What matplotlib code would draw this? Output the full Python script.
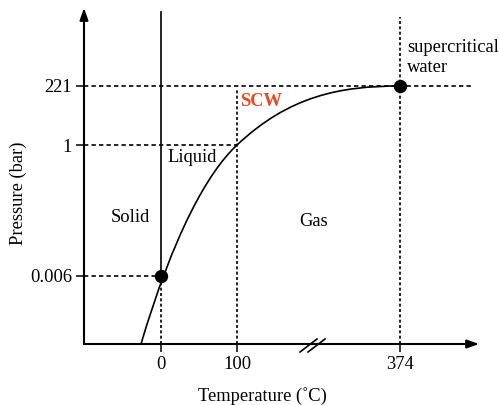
import matplotlib
matplotlib.use("Agg")
import matplotlib.pyplot as plt
from matplotlib.path import Path
from matplotlib.patches import PathPatch

plt.rcParams['font.family'] = ['Liberation Serif', 'DejaVu Serif']

# ---- data (schematic phase diagram of water) ----
temp_labels = ['0', '100', '374']
pressure_labels = ['0.006', '1', '221']
region_labels = ['Solid', 'Liquid', 'Gas']
# schematic axis positions of the labelled values
temp_pos = [77, 153, 316]
pressure_pos = [68, 199, 258]
# vapour-pressure curve as two cubic Bezier segments (schematic units):
# start, ctrl, ctrl, 100C point, ctrl, ctrl, critical point
curve_x = [57, 89, 123, 153, 205, 256, 316]
curve_y = [0, 108, 171, 199, 248, 258, 258]

FS = 13.3
fig = plt.figure(figsize=(4.99, 4.05), dpi=100)
ax = fig.add_axes([84/499, 61/405, 395/499, 336/405])
ax.set_xlim(0, 395)
ax.set_ylim(0, 336)
for s in ax.spines.values():
    s.set_visible(False)
ax.patch.set_alpha(0)

# axes with arrows
arrow = dict(arrowstyle='-|>,head_length=0.7,head_width=0.25', lw=1.5, color='black',
             shrinkA=0, shrinkB=0)
ax.annotate('', xy=(395, 0), xytext=(0, 0), arrowprops=arrow, annotation_clip=False)
ax.annotate('', xy=(0, 336), xytext=(0, 0), arrowprops=arrow, annotation_clip=False)

ax.set_xticks(temp_pos)
ax.set_xticklabels(temp_labels)
ax.set_yticks(pressure_pos)
ax.set_yticklabels(pressure_labels)
ax.tick_params(axis='both', direction='out', length=5.8, width=1.1, labelsize=FS, color='black')
ax.tick_params(axis='x', pad=3)
ax.tick_params(axis='y', pad=3)

dash_h = dict(color='black', lw=1.2, linestyle=(0, (2.6, 1.9)))
dash_v = dict(color='black', lw=1.2, linestyle=(0, (1.8, 1.4)))

# solid-liquid boundary
ax.plot([temp_pos[0], temp_pos[0]], [pressure_pos[0], 332], color='black', lw=1.2)
# dashed guides
ax.plot([0, temp_pos[0]], [pressure_pos[0]] * 2, **dash_h)
ax.plot([temp_pos[0]] * 2, [0, pressure_pos[0]], **dash_v)
ax.plot([0, temp_pos[1]], [pressure_pos[1]] * 2, **dash_h)
ax.plot([temp_pos[1]] * 2, [0, 256], **dash_v)
ax.plot([0, 389], [pressure_pos[2]] * 2, **dash_h)
ax.plot([temp_pos[2]] * 2, [0, 327], **dash_v)

# curve (smooth Bezier drawn by matplotlib)
codes = [Path.MOVETO] + [Path.CURVE4] * 6
path = Path(list(zip(curve_x, curve_y)), codes)
ax.add_patch(PathPatch(path, facecolor='none', edgecolor='black', lw=1.2, clip_on=False))

# triple and critical points
ax.plot([temp_pos[0], temp_pos[2]], [pressure_pos[0], pressure_pos[2]], 'o',
        color='black', ms=8.6, clip_on=False, zorder=5)

# axis break marks
for dx in (0, 8):
    ax.plot([216 + dx, 233 + dx], [-8, 5], color='black', lw=1.2, clip_on=False)

# region labels
ax.text(46, 126, region_labels[0], fontsize=FS, ha='center', va='center')
ax.text(108, 187, region_labels[1], fontsize=FS, ha='center', va='center')
ax.text(230, 122, region_labels[2], fontsize=FS, ha='center', va='center')
ax.text(156, 242, 'SCW', fontsize=FS, ha='left', va='center', color='#E8491D',
        fontweight='bold')
ax.text(323, 296, 'supercritical', fontsize=FS, ha='left', va='center')
ax.text(323, 276, 'water', fontsize=FS, ha='left', va='center')

fig.text(18/499, 1 - 193/405, 'Pressure (bar)', fontsize=FS, rotation=90,
         ha='center', va='center')
fig.text(262/499, 1 - 396/405, 'Temperature (˚C)', fontsize=FS,
         ha='center', va='center')

fig.savefig('out.png', dpi=100)
